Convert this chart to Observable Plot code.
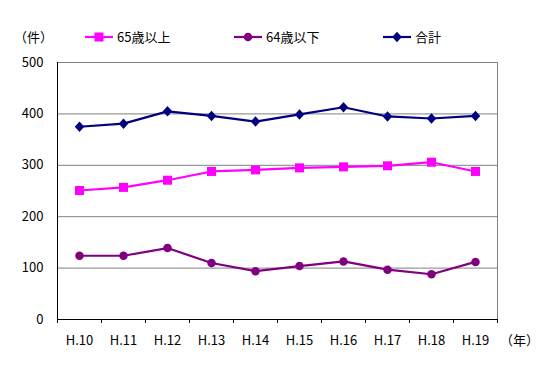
<!DOCTYPE html>
<html><head><meta charset="utf-8">
<script src="https://cdn.jsdelivr.net/npm/d3@7"></script>
<script src="https://cdn.jsdelivr.net/npm/@observablehq/plot@0.6"></script>
<style>
body{margin:0;background:#fff;}
#wrap{position:relative;width:550px;height:367px;font-family:"MS Gothic","Noto Sans CJK JP",sans-serif;font-size:13px;color:#000;}
.lbl{position:absolute;line-height:14px;white-space:nowrap;}
.leg{position:absolute;display:flex;align-items:center;line-height:14px;white-space:nowrap;}
.leg svg{margin-right:4px;}
</style></head>
<body><div id="wrap"></div>
<script>
const years = ["H.10","H.11","H.12","H.13","H.14","H.15","H.16","H.17","H.18","H.19"];
const over65 = [251,257,271,288,291,295,297,299,306,288];
const under64 = [124,124,139,110,94,104,113,97,88,112];
const total = [375,381,405,396,385,399,413,395,391,396];
const seriesNames = ["65歳以上","64歳以下","合計"];
const seriesColors = ["#FF00FF","#800080","#000080"];
const yTicks = [0,100,200,300,400,500];

const diamond = {draw(ctx, size){const r=Math.sqrt(size/Math.PI); ctx.moveTo(0,-r*1.05); ctx.lineTo(r*0.95,0); ctx.lineTo(0,r*1.05); ctx.lineTo(-r*0.95,0); ctx.closePath();}};
const square = {draw(ctx, size){const r=Math.sqrt(size/Math.PI)*0.9; ctx.rect(-r,-r,2*r,2*r);}};
const circle = {draw(ctx, size){const r=Math.sqrt(size/Math.PI)*0.85; ctx.moveTo(r,0); ctx.arc(0,0,r,0,2*Math.PI);}};
const symbols = [square, circle, diamond];

const seriesValues = [over65, under64, total];
const rows = [];
seriesValues.forEach((vals, s) => vals.forEach((v, i) => rows.push({i, year: years[i], value: v, s})));

const fontFam = '"MS Gothic","Noto Sans CJK JP",sans-serif';
const marks = [
  Plot.gridY(yTicks, {stroke:"#808080", strokeOpacity:1}),
  Plot.frame({stroke:"#808080"}),
  Plot.ruleX([-0.5], {stroke:"#000"}),
  Plot.ruleY([0], {stroke:"#000"}),
  Plot.axisX(d3.range(11).map(k => k - 0.5), {tickSize:4, tickFormat: () => "", stroke:"#000", label:null}),
  Plot.axisX(d3.range(10), {tickSize:0, tickPadding:16, tickFormat: i => years[i], fontSize:13, fontFamily:fontFam, fill:"#000", label:null, letterSpacing:"1px"}),
  Plot.axisY(yTicks, {tickSize:0, tickPadding:14, fontSize:13, fontFamily:fontFam, fill:"#000", label:null, letterSpacing:"1px"})
];
[2,0,1].forEach(s => {
  const d = rows.filter(r => r.s === s);
  marks.push(Plot.line(d, {x:"i", y:"value", stroke:seriesColors[s], strokeWidth:2.2}));
  marks.push(Plot.dot(d, {x:"i", y:"value", r:5, symbol:() => symbols[s], fill:seriesColors[s], stroke:"none"}));
});

const chart = Plot.plot({
  width:550, height:367,
  marginLeft:57, marginRight:53, marginTop:62, marginBottom:48,
  style:{fontFamily:fontFam, fontSize:"13px", background:"#fff", overflow:"visible"},
  x:{type:"linear", domain:[-0.5, 9.5], axis:null, label:null},
  y:{domain:[0,500], axis:null, label:null},
  marks
});
const wrap = document.getElementById("wrap");
wrap.appendChild(chart);

function addLabel(text, left, top){const d=document.createElement("div"); d.className="lbl"; d.textContent=text; d.style.left=left+"px"; d.style.top=top+"px"; wrap.appendChild(d);}
addLabel("（件）", 14, 30);
addLabel("（年）", 500, 333);

const legX = [85, 234, 383];
seriesNames.forEach((name, s) => {
  const d=document.createElement("div"); d.className="leg"; d.style.left=legX[s]+"px"; d.style.top="30px";
  const ns="http://www.w3.org/2000/svg";
  const sv=document.createElementNS(ns,"svg"); sv.setAttribute("width","28"); sv.setAttribute("height","14");
  const ln=document.createElementNS(ns,"line"); ln.setAttribute("x1","0"); ln.setAttribute("x2","28"); ln.setAttribute("y1","7"); ln.setAttribute("y2","7"); ln.setAttribute("stroke",seriesColors[s]); ln.setAttribute("stroke-width","2.2");
  sv.appendChild(ln);
  const p=document.createElementNS(ns,"path"); p.setAttribute("transform","translate(14,7)"); p.setAttribute("fill",seriesColors[s]);
  const path=d3.path(); symbols[s].draw(path, Math.PI*25); p.setAttribute("d", path.toString());
  sv.appendChild(p);
  d.appendChild(sv);
  const t=document.createElement("span"); t.textContent=name; d.appendChild(t);
  wrap.appendChild(d);
});
</script></body></html>
